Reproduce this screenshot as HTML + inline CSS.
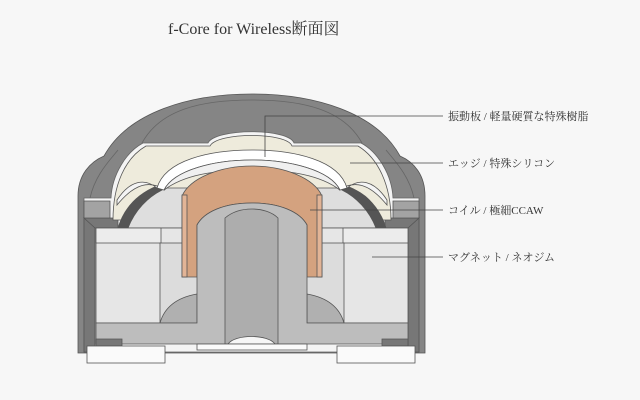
<!DOCTYPE html>
<html><head><meta charset="utf-8"><style>
html,body{margin:0;padding:0;background:#f7f7f7;}
svg{display:block}
</style></head><body>
<svg width="640" height="400" viewBox="0 0 640 400" xmlns="http://www.w3.org/2000/svg">
<rect width="640" height="400" fill="#f7f7f7"/>
<text x="168" y="34" font-family="Liberation Serif, Noto Serif CJK SC, serif" font-size="16" fill="#333">f-Core for Wireless断面図</text>
<g stroke="#555" stroke-width="0.8">
<!-- housing -->
<path d="M78,353 L78,196 C78,175 90,162 104,156 C128,112 190,94 252,94 C314,94 376,112 400,156 C414,162 425,175 425,196 L425,353 Z" fill="#858585"/>
<path d="M142,143 C160,110 200,100 252,100 C304,100 344,110 362,143" fill="none" stroke="#666"/>
<path d="M90,198 C95,175 110,160 118,150" fill="none" stroke="#666"/>
<path d="M414,198 C409,175 394,160 386,150" fill="none" stroke="#666"/>
<path d="M84,352 L84,198 L111,198 C112,175 126,152 143,143 L208,143 C215,128 289,128 294,143 L361,143 C378,152 392,175 393,198 L419,198 L419,352 Z" fill="#f4f4f4" stroke="#666"/>
<path d="M84,218 L84,352 L95,352 L95,218 Z" fill="#777"/>
<path d="M84,218 L118,218 L118,228 L95,228 Z" fill="#777"/>
<path d="M84,201 L110,201 L110,218 L84,218 Z" fill="#a3a3a3"/>
<path d="M419,218 L419,352 L408,352 L408,218 Z" fill="#777"/>
<path d="M419,218 L385,218 L385,228 L408,228 Z" fill="#777"/>
<path d="M419,201 L393,201 L393,218 L419,218 Z" fill="#a3a3a3"/>
<!-- cream edge -->
<path d="M113,220 C113,185 125,158 146,146 L210,146 C217,132 287,132 292,146 L358,146 C378,158 391,185 391,220 Z" fill="#eeebdc"/>
<!-- gray interior cavity -->
<path d="M120,228 C128,205 140,193 155,188 L350,188 C365,193 378,205 384,228 Z" fill="#dedede"/>
<path d="M118,228 C125,205 140,193 157,186 L162,190 C148,197 135,210 128,228 Z" fill="#555"/>
<path d="M386,228 C379,205 364,193 347,186 L342,190 C356,197 369,210 376,228 Z" fill="#555"/>
<!-- edge curl -->
<path d="M117,200 C130,180 145,178 157,188 L165,190 C150,180 135,183 117,205 Z" fill="#f4f4f4"/>
<path d="M387,200 C374,180 359,178 347,188 L339,190 C354,180 369,183 387,205 Z" fill="#f4f4f4"/>
<!-- diaphragm -->
<path d="M157,188 C165,160 210,150 252,150 C294,150 339,160 347,188 L340,190 C330,170 290,160 252,160 C214,160 174,170 164,190 Z" fill="#ffffff"/>
<path d="M164,190 C174,170 214,160 252,160 C290,160 330,170 340,190 C320,175 290,170 252,170 C214,170 184,175 164,190 Z" fill="#f0f0f0"/>
<!-- magnet -->
<rect x="96" y="228" width="312" height="95" fill="#e6e6e6"/>
<rect x="96" y="228" width="65" height="15" fill="#ececec"/>
<rect x="343" y="228" width="65" height="15" fill="#ececec"/>
<rect x="160" y="243" width="184" height="80" fill="#dcdcdc"/>
<path d="M160,323 C165,305 180,297 197,294 L197,323 Z" fill="#b0b0b0"/>
<path d="M344,323 C339,305 324,297 307,294 L307,323 Z" fill="#b0b0b0"/>
<!-- coil -->
<path d="M182,196 C190,178 220,166 252,166 C284,166 314,178 322,196 L322,277 L307,277 L307,225 C300,212 280,203 252,203 C224,203 204,212 197,225 L197,277 L182,277 Z" fill="#d4a27f"/>
<rect x="182" y="195" width="5" height="82" fill="#e2b496"/>
<rect x="317" y="195" width="5" height="82" fill="#e2b496"/>
<!-- pole -->
<path d="M197,225 C204,212 224,203 252,203 C280,203 300,212 307,225 L307,323 L408,323 L408,344 L96,344 L96,323 L197,323 Z" fill="#bdbdbd"/>
<path d="M225,218 C232,212 242,209 252,209 C262,209 272,212 278,218 L278,344 L225,344 Z" fill="#adadad"/>
<path d="M96,339 L122,339 L122,346 L96,346 Z" fill="#777"/>
<path d="M408,339 L382,339 L382,346 L408,346 Z" fill="#777"/>
<path d="M228,344 C235,334 268,334 275,344 Z" fill="#f6f6f6"/>
<!-- bottom pieces -->
<rect x="87" y="346" width="78" height="17" fill="#fafafa"/>
<rect x="337" y="346" width="78" height="17" fill="#fafafa"/>
<rect x="197" y="344" width="110" height="6" fill="#fafafa"/>
</g>
<!-- leader lines -->
<g stroke="#444" stroke-width="0.8" fill="none">
<path d="M265,157 L265,116 L443,116"/>
<path d="M350,163 L443,163"/>
<path d="M310,210 L443,210"/>
<path d="M372,257 L443,257"/>
</g>
<g font-family="Liberation Serif, Noto Serif CJK JP, serif" font-size="11" fill="#333">
<text x="448" y="120">振動板 / 軽量硬質な特殊樹脂</text>
<text x="448" y="167">エッジ / 特殊シリコン</text>
<text x="448" y="214">コイル / 極細CCAW</text>
<text x="448" y="261">マグネット / ネオジム</text>
</g>
</svg>
</body></html>
